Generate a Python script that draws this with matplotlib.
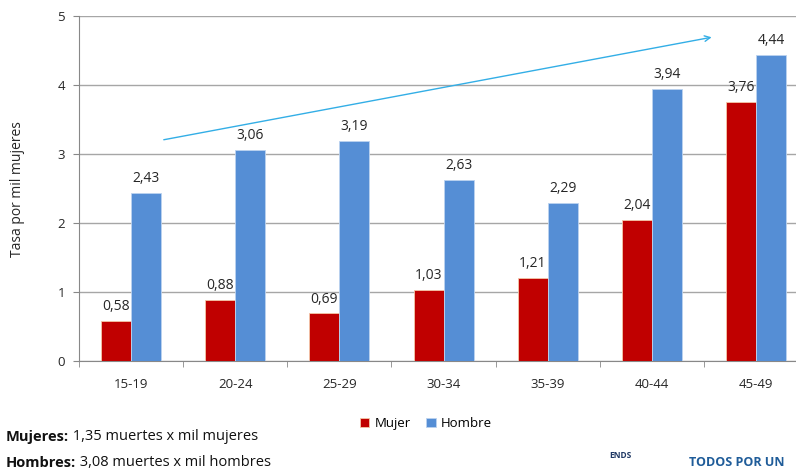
import numpy as np
import matplotlib
matplotlib.use('Agg')
import matplotlib.pyplot as plt

plt.rcParams['font.family'] = ['Open Sans', 'DejaVu Sans']

# Data
grupos  = ['15-19', '20-24', '25-29', '30-34', '35-39', '40-44', '45-49']
mujer   = [0.58, 0.88, 0.69, 1.03, 1.21, 2.04, 3.76]
hombre  = [2.43, 3.06, 3.19, 2.63, 2.29, 3.94, 4.44]
etiquetas_mujer  = ['0,58', '0,88', '0,69', '1,03', '1,21', '2,04', '3,76']
etiquetas_hombre = ['2,43', '3,06', '3,19', '2,63', '2,29', '3,94', '4,44']

rojo = '#C00000'
azul = '#558ED5'
w = 0.288

fig = plt.figure(figsize=(7.96, 4.72), dpi=100)
ax = fig.add_axes([0.0992, 0.235, 0.916, 0.731])

x = np.arange(len(grupos))
b1 = ax.bar(x - w/2, mujer, w, color=rojo, edgecolor='#f4c7a8', linewidth=0.6, label='Mujer', zorder=3)
b2 = ax.bar(x + w/2, hombre, w, color=azul, edgecolor='#bcd3f0', linewidth=0.6, label='Hombre', zorder=3)

for rect, t in zip(b1, etiquetas_mujer):
    ax.text(rect.get_x() + rect.get_width()/2, rect.get_height() + 0.1, t,
            ha='center', va='bottom', fontsize=10, color='#262626')
for rect, t in zip(b2, etiquetas_hombre):
    ax.text(rect.get_x() + rect.get_width()/2, rect.get_height() + 0.1, t,
            ha='center', va='bottom', fontsize=10, color='#262626')

# Axes
ax.set_xlim(-0.5, len(grupos) - 0.5)
ax.set_ylim(0, 5)
ax.set_yticks(range(0, 6))
ax.set_xticks(x)
ax.set_xticklabels(grupos, fontsize=9.5, color='#262626')
ax.set_xticks(np.arange(-0.5, len(grupos)), minor=True)
ax.tick_params(axis='x', which='major', length=0, pad=12)
ax.tick_params(axis='x', which='minor', length=4, color='#888888')
ax.tick_params(axis='y', length=4, color='#888888', labelsize=9.5, labelcolor='#262626', pad=6)
ax.yaxis.grid(True, color='#a6a6a6', linewidth=1, zorder=0)
for s in ['top', 'right']:
    ax.spines[s].set_visible(False)
ax.spines['left'].set_color('#888888')
ax.spines['bottom'].set_color('#888888')
ax.set_ylabel('Tasa por mil mujeres', fontsize=10, color='#262626')
ax.yaxis.set_label_coords(-0.074, 0.5)

# Trend arrow
ax.annotate('', xy=(5.60, 4.70), xytext=(0.288, 3.20),
            arrowprops=dict(arrowstyle='->', color='#33aee6', lw=1.0), zorder=4)

# Legend
fig.legend(handles=[b1, b2], loc='center', bbox_to_anchor=(0.535, 0.103), ncol=2,
           frameon=False, fontsize=9.5, handlelength=0.7, handleheight=0.7,
           handletextpad=0.4, columnspacing=1.2)

# Footer text: bold label followed by regular text
renderer = fig.canvas.get_renderer()
for y, lab, rest in [(0.075, 'Mujeres:', ' 1,35 muertes x mil mujeres'),
                     (0.02, 'Hombres:', ' 3,08 muertes x mil hombres')]:
    t = fig.text(0.007, y, lab, fontsize=10.5, fontweight='bold', va='center', color='#111111')
    bb = t.get_window_extent(renderer=renderer)
    fig.text(bb.x1 / fig.bbox.width, y, rest, fontsize=10.5, va='center', color='#111111')

# Logos (approximate)
fig.text(0.765, 0.035, 'ENDS', fontsize=6, fontweight='bold', color='#1f3864', va='center')
fig.text(0.865, 0.02, 'TODOS POR UN', fontsize=9, fontweight='bold', color='#1f5c99', va='center')

fig.savefig('out.png', dpi=100)
